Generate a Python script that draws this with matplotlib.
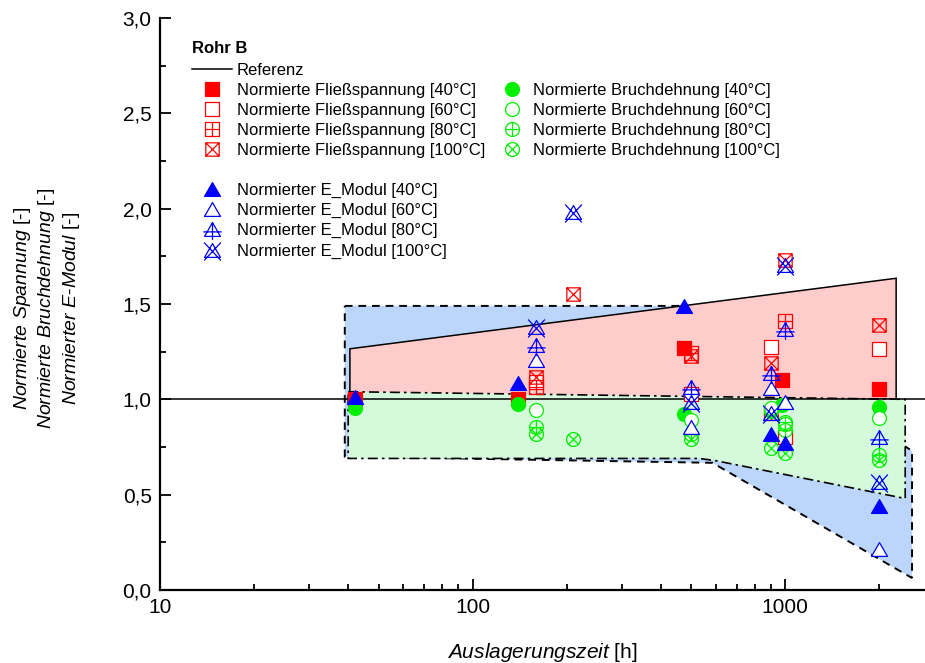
import numpy as np
import matplotlib
matplotlib.use("Agg")
import matplotlib.pyplot as plt
from matplotlib.path import Path
from matplotlib.lines import Line2D
from matplotlib.ticker import FixedLocator, FuncFormatter, LogLocator, MultipleLocator, NullFormatter

plt.rcParams['font.family'] = ['Liberation Sans', 'DejaVu Sans']
plt.rcParams['mathtext.fontset'] = 'custom'
plt.rcParams['mathtext.it'] = 'Liberation Sans:italic'
plt.rcParams['mathtext.rm'] = 'Liberation Sans'
plt.rcParams['mathtext.bf'] = 'Liberation Sans:bold'

# ---------------- data ----------------
# Normierte Fließspannung (red squares)
F40_t = [42, 140, 475, 980, 2000]
F40_y = [1.00, 1.00, 1.27, 1.10, 1.055]
F60_t = [160, 500, 900, 1000, 2000]
F60_y = [1.09, 1.03, 1.275, 0.80, 1.265]
F80_t = [160, 500, 900, 1000]
F80_y = [1.065, 1.245, 0.93, 1.41]
F100_t = [160, 210, 500, 900, 1000, 2000]
F100_y = [1.115, 1.55, 1.225, 1.19, 1.73, 1.39]

# Normierte Bruchdehnung (green circles)
B40_t = [42, 140, 475, 900, 980, 2000]
B40_y = [0.955, 0.975, 0.925, 0.94, 0.97, 0.96]
B60_t = [160, 500, 900, 1000, 2000]
B60_y = [0.945, 0.89, 0.955, 0.87, 0.90]
B80_t = [160, 500, 1000, 1000, 2000]
B80_y = [0.855, 0.82, 0.88, 0.84, 0.71]
B100_t = [160, 210, 500, 900, 1000, 2000]
B100_y = [0.82, 0.79, 0.79, 0.745, 0.72, 0.68]

# Normierter E-Modul (blue triangles)
E40_t = [42, 140, 475, 900, 1000, 2000]
E40_y = [1.01, 1.085, 1.49, 0.82, 0.77, 0.44]
E60_t = [160, 500, 900, 1000, 2000]
E60_y = [1.205, 0.855, 1.06, 0.985, 0.215]
E80_t = [160, 500, 900, 1000, 2000]
E80_y = [1.285, 1.065, 1.14, 1.37, 0.80]
E100_t = [160, 210, 500, 900, 1000, 2000]
E100_y = [1.38, 1.98, 0.985, 0.93, 1.705, 0.565]

# shaded scatter bands (t, y)
blue_t = [39, 470, 2545, 2545, 585, 39]
blue_y = [1.49, 1.49, 0.73, 0.063, 0.667, 0.70]
pink_t = [40.5, 2264, 2264, 40.5]
pink_y = [1.265, 1.635, 1.0, 1.0]
green_t = [40, 2420, 2420, 600, 531, 40]
green_y = [1.04, 1.0, 0.48, 0.678, 0.69, 0.69]

ref_y = 1.0

legend_title = "Rohr B"
xlabels = ["10", "100", "1000"]
xticks = [10, 100, 1000]

# ---------------- marker paths ----------------
def build(outline, lines, curve=False):
    verts, codes = [], []
    if curve:
        c = Path.unit_circle()
        verts += list(c.vertices)
        codes += list(c.codes)
    else:
        verts += outline + [outline[0]]
        codes += [Path.MOVETO] + [Path.LINETO] * (len(outline) - 1) + [Path.CLOSEPOLY]
    for a, b in lines:
        verts += [a, b]
        codes += [Path.MOVETO, Path.LINETO]
    verts = np.array(verts, float)
    return Path(verts, codes), np.abs(verts).max()

sq = [(-1, -1), (1, -1), (1, 1), (-1, 1)]
tri = [(0, 0.866), (-1, -0.866), (1, -0.866)]
d = 0.7071
M = {
    'sq': build(sq, []),
    'sq+': build(sq, [((0, -1), (0, 1)), ((-1, 0), (1, 0))]),
    'sqx': build(sq, [((-1, -1), (1, 1)), ((-1, 1), (1, -1))]),
    'ci': build(None, [], curve=True),
    'ci+': build(None, [((0, -1), (0, 1)), ((-1, 0), (1, 0))], curve=True),
    'cix': build(None, [((-d, -d), (d, d)), ((-d, d), (d, -d))], curve=True),
    'tr': build(tri, []),
    'tr+': build(tri, [((0, 0.866), (0, -1.3)), ((-1.15, -0.3), (1.15, -0.3))]),
    'trx': build(tri, [((-1.05, 1.0), (1.05, -1.25)), ((1.05, 1.0), (-1.05, -1.25))]),
}

RED, GREEN, BLUE = '#FF0000', '#00F000', '#0000FF'
MS_SQ, MS_CI, MS_TR = 9.6, 10.0, 11.5

def style(key, color, fill, base):
    path, scale = M[key]
    fc = {'full': color, 'white': 'white', 'none': 'none'}[fill]
    return dict(marker=path, markersize=base * scale, markerfacecolor=fc,
                markeredgecolor=color, markeredgewidth=0.9, linestyle='none')

series = [
    ("Normierte Fließspannung [40°C]", F40_t, F40_y, style('sq', RED, 'full', MS_SQ)),
    ("Normierte Fließspannung [60°C]", F60_t, F60_y, style('sq', RED, 'white', MS_SQ)),
    ("Normierte Fließspannung [80°C]", F80_t, F80_y, style('sq+', RED, 'none', MS_SQ)),
    ("Normierte Fließspannung [100°C]", F100_t, F100_y, style('sqx', RED, 'none', MS_SQ)),
    ("Normierte Bruchdehnung [40°C]", B40_t, B40_y, style('ci', GREEN, 'full', MS_CI)),
    ("Normierte Bruchdehnung [60°C]", B60_t, B60_y, style('ci', GREEN, 'white', MS_CI)),
    ("Normierte Bruchdehnung [80°C]", B80_t, B80_y, style('ci+', GREEN, 'none', MS_CI)),
    ("Normierte Bruchdehnung [100°C]", B100_t, B100_y, style('cix', GREEN, 'none', MS_CI)),
    ("Normierter E_Modul [40°C]", E40_t, E40_y, style('tr', BLUE, 'full', MS_TR)),
    ("Normierter E_Modul [60°C]", E60_t, E60_y, style('tr', BLUE, 'white', MS_TR)),
    ("Normierter E_Modul [80°C]", E80_t, E80_y, style('tr+', BLUE, 'none', MS_TR)),
    ("Normierter E_Modul [100°C]", E100_t, E100_y, style('trx', BLUE, 'none', MS_TR)),
]

# ---------------- figure ----------------
fig = plt.figure(figsize=(9.25, 6.63), dpi=100)
ax = fig.add_axes([160 / 925, 73 / 663, 765 / 925, 572 / 663])
ax.set_xscale('log')
ax.set_xlim(10, 2800)
ax.set_ylim(0, 3.0)

ax.fill(blue_t, blue_y, facecolor='#BBD6FA', edgecolor='black', lw=1.4,
        linestyle=(0, (4, 3)), zorder=1)
ax.fill(pink_t, pink_y, facecolor='#FFCCCC', edgecolor='black', lw=1.1, zorder=2)
ax.fill(green_t, green_y, facecolor='#D5FADB', edgecolor='black', lw=1.2,
        linestyle=(0, (6, 2.5, 1.5, 2.5)), zorder=3)
ref_line = ax.axhline(ref_y, color='black', lw=1.1, zorder=4)

handles = {}
for i, (lab, t, y, st) in enumerate(series):
    h, = ax.plot(t, y, zorder=5 + i, **st)
    handles[lab] = h

# axes styling
for s in ['top', 'right']:
    ax.spines[s].set_visible(False)
for s in ['left', 'bottom']:
    ax.spines[s].set_linewidth(1.6)
ax.xaxis.set_major_locator(FixedLocator(xticks))
ax.set_xticklabels(xlabels)
ax.xaxis.set_minor_locator(LogLocator(base=10, subs=np.arange(2, 10)))
ax.xaxis.set_minor_formatter(NullFormatter())
ax.yaxis.set_major_locator(MultipleLocator(0.5))
ax.yaxis.set_minor_locator(MultipleLocator(0.25))
ax.yaxis.set_major_formatter(FuncFormatter(lambda v, p: f"{v:.1f}".replace('.', ',')))
ax.tick_params(which='major', direction='in', length=8, width=1.3, labelsize=15, pad=6)
ax.tick_params(which='minor', direction='in', length=4.5, width=1.3)

ax.set_xlabel(r"$\mathit{Auslagerungszeit}$ [h]", fontsize=15, labelpad=17)

ylines = [r"$\mathit{Normierte\ Spannung}$ [-]",
          r"$\mathit{Normierte\ Bruchdehnung}$ [-]",
          r"$\mathit{Normierter\ E}$-$\mathit{Modul}$ [-]"]
for xpx, txt in zip([23, 47, 71], ylines):
    fig.text(xpx / 925, 1 - 308 / 663, txt, rotation=90, ha='center', va='center', fontsize=14)

# legends
blank = Line2D([], [], linestyle='none')
ref_h = Line2D([], [], color='black', lw=1.1)
col1_h = [ref_h] + [handles[s[0]] for s in series[0:4]] + [blank] + [handles[s[0]] for s in series[8:12]]
col1_l = ["Referenz"] + [s[0] for s in series[0:4]] + [""] + [s[0] for s in series[8:12]]
leg1 = ax.legend(col1_h, col1_l, title=legend_title, loc='upper left',
                 bbox_to_anchor=(32 / 765, 1 - 23 / 572), frameon=False, borderpad=0,
                 fontsize=12, title_fontproperties={'weight': 'bold', 'size': 12},
                 alignment='left', handlelength=2.4, handletextpad=0.3, labelspacing=0.3,
                 borderaxespad=0)
leg1._legend_box.sep = 5
ax.add_artist(leg1)
col2_h = [handles[s[0]] for s in series[4:8]]
col2_l = [s[0] for s in series[4:8]]
leg2 = ax.legend(col2_h, col2_l, loc='upper left',
                 bbox_to_anchor=(332 / 765, 1 - 65 / 572), frameon=False, borderpad=0,
                 fontsize=12, handlelength=2.4, handletextpad=0.05, labelspacing=0.3,
                 borderaxespad=0)

fig.savefig("out.png", dpi=100)
